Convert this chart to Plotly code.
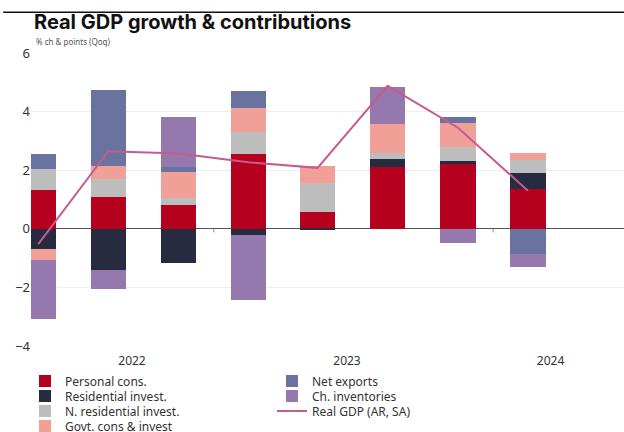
import pandas as pd
import plotly.graph_objects as go

# Quarterly contributions to real GDP growth (percentage points)
quarters = ["2022Q2", "2022Q3", "2022Q4", "2023Q1", "2023Q2", "2023Q3", "2023Q4", "2024Q1"]
personal_cons = [1.33, 1.08, 0.80, 2.56, 0.56, 2.10, 2.20, 1.35]
residential_invest = [-0.69, -1.40, -1.17, -0.20, -0.05, 0.27, 0.12, 0.55]
n_residential_invest = [0.70, 0.61, 0.25, 0.76, 1.00, 0.21, 0.46, 0.45]
govt_cons_invest = [-0.37, 0.47, 0.90, 0.80, 0.59, 1.00, 0.82, 0.23]
net_exports = [0.53, 2.58, 0.16, 0.60, 0.00, 0.00, 0.23, -0.85]
ch_inventories = [-2.02, -0.65, 1.69, -2.22, 0.00, 1.27, -0.47, -0.45]
real_gdp = [-0.52, 2.65, 2.57, 2.27, 2.08, 4.88, 3.45, 1.30]

year_labels = ["2022", "2023", "2024"]
year_label_dates = ["2022-09-16", "2023-06-24", "2024-03-16"]
year_breaks = ["2023-01-01", "2024-01-01"]

periods = pd.PeriodIndex(quarters, freq="Q")
x_mid = periods.start_time + (periods.end_time - periods.start_time) / 2

bar_width_ms = 46 * 24 * 3600 * 1000
font_family = "Noto Sans"

series = [
    ("Personal cons.", personal_cons, "#b5001e", "legend"),
    ("Residential invest.", residential_invest, "#272b3f", "legend2"),
    ("N. residential invest.", n_residential_invest, "#bdbdbd", "legend3"),
    ("Govt. cons & invest", govt_cons_invest, "#f0a096", "legend4"),
    ("Net exports", net_exports, "#6a73a0", "legend"),
    ("Ch. inventories", ch_inventories, "#9578ad", "legend2"),
]

fig = go.Figure()
for name, vals, color, lg in series:
    fig.add_trace(go.Bar(
        x=x_mid, y=vals, name=name, legend=lg,
        marker=dict(color=color, line=dict(width=0)),
        width=bar_width_ms,
    ))

fig.add_trace(go.Scatter(
    x=x_mid, y=real_gdp, name="Real GDP (AR, SA)", legend="legend3",
    mode="lines", line=dict(color="#c85a8e", width=2),
))

# small markers on the zero line at each year boundary
for d in year_breaks:
    fig.add_shape(type="line", xref="x", yref="y", x0=d, x1=d, y0=0, y1=-0.12,
                  line=dict(color="#888888", width=1))

# rule across the top of the panel
fig.add_shape(type="line", xref="paper", yref="paper", x0=-0.047, x1=1.0,
              y0=1.139, y1=1.139, line=dict(color="#111111", width=1.5))

legend_common = dict(
    orientation="h", xanchor="left", yanchor="middle", traceorder="normal",
    font=dict(family=font_family, size=12, color="#333333"),
    bgcolor="rgba(0,0,0,0)", entrywidthmode="pixels", entrywidth=202,
    itemclick=False, itemdoubleclick=False,
)
row_y = [-0.1195, -0.1707, -0.2218, -0.2730]
legend_x = -6 / 593

fig.update_layout(
    width=624, height=432,
    margin=dict(l=31, r=0, t=53, b=86, autoexpand=False),
    paper_bgcolor="white", plot_bgcolor="white",
    barmode="relative", bargap=0,
    font=dict(family=font_family, size=12, color="#333333"),
    title=dict(
        text="<b>Real GDP growth & contributions</b>",
        font=dict(family="Inter", size=20, color="#111111"),
        xref="container", yref="container", x=34 / 624, xanchor="left",
        y=1 - 22 / 432, yanchor="middle",
    ),
    xaxis=dict(
        type="date", range=["2022-05-07", "2024-06-20"],
        tickvals=year_label_dates, ticktext=year_labels,
        showgrid=False, zeroline=False, showline=False, ticks="",
        ticklabelstandoff=6,
        tickfont=dict(family=font_family, size=12, color="#333333"),
    ),
    yaxis=dict(
        range=[-4, 6], tickvals=[-4, -2, 0, 2, 4, 6],
        showgrid=True, gridcolor="#eeeeee", gridwidth=1,
        zeroline=True, zerolinecolor="#555555", zerolinewidth=1,
        showline=False, ticks="",
        tickfont=dict(family=font_family, size=13, color="#333333"),
    ),
    legend=dict(x=legend_x, y=row_y[0], **legend_common),
    legend2=dict(x=legend_x, y=row_y[1], **legend_common),
    legend3=dict(x=legend_x, y=row_y[2], **legend_common),
    legend4=dict(x=legend_x, y=row_y[3], **legend_common),
    annotations=[dict(
        text="% ch & points (Qoq)", xref="paper", yref="paper",
        x=0, xshift=3, y=1.04, xanchor="left", yanchor="middle",
        showarrow=False, font=dict(family=font_family, size=8, color="#555555"),
    )],
)

fig.write_html("out.html")
